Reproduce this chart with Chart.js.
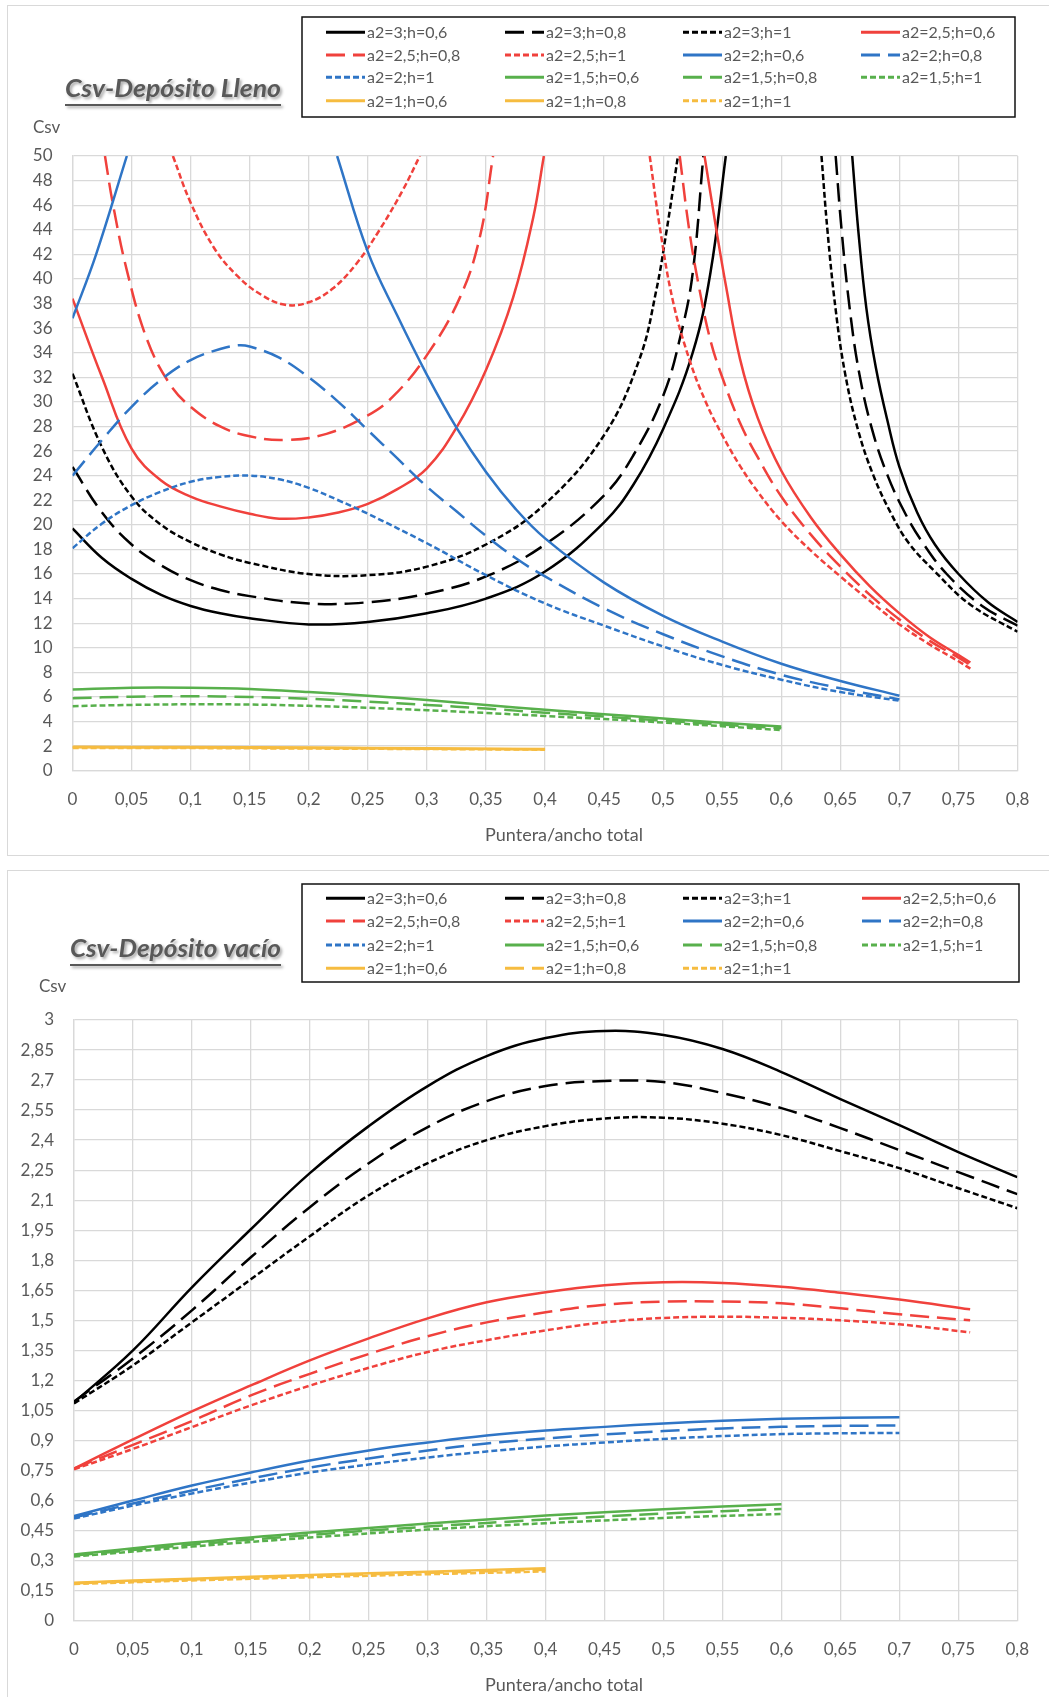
<!DOCTYPE html>
<html>
<head>
<meta charset="utf-8">
<script src="https://cdn.jsdelivr.net/npm/chart.js@4.4.1/dist/chart.umd.min.js"></script>
<style>
  html, body { margin: 0; padding: 0; background: #fff; width: 1049px; height: 1697px; overflow: hidden; position: relative; }
  .card { position: absolute; left: 7px; width: 1100px; border: 1px solid #d9d9d9; }
  #card1 { top: 5px; height: 849px; }
  #card2 { top: 870px; height: 900px; }
  canvas { position: absolute; left: 0; }
  #lleno { top: 0; width: 1049px; height: 862px; }
  #vacio { top: 862px; width: 1049px; height: 835px; }
</style>
</head>
<body>
<div class="card" id="card1"></div>
<div class="card" id="card2"></div>
<canvas id="lleno" width="1049" height="862"></canvas>
<canvas id="vacio" width="1049" height="835"></canvas>
<script>
// Series: a2 = 3; 2,5; 2; 1,5; 1  con h = 0,6; 0,8; 1
const labels = [
  'a2=3;h=0,6', 'a2=3;h=0,8', 'a2=3;h=1', 'a2=2,5;h=0,6',
  'a2=2,5;h=0,8', 'a2=2,5;h=1', 'a2=2;h=0,6', 'a2=2;h=0,8',
  'a2=2;h=1', 'a2=1,5;h=0,6', 'a2=1,5;h=0,8', 'a2=1,5;h=1',
  'a2=1;h=0,6', 'a2=1;h=0,8', 'a2=1;h=1'
];
const colors = [
  '#000000', '#000000', '#000000', '#f0413c', '#f0413c', '#f0413c',
  '#2f75c6', '#2f75c6', '#2f75c6', '#58b04c', '#58b04c', '#58b04c',
  '#f6bc40', '#f6bc40', '#f6bc40'
];
const dashesLleno = ['solid', 'dash', 'dot', 'solid', 'dash', 'dot', 'solid', 'dash', 'dot',
  'solid', 'dash', 'dot', 'solid', 'solid', 'dot'];
const dashesVacio = ['solid', 'dash', 'dot', 'solid', 'dash', 'dot', 'solid', 'dash', 'dot',
  'solid', 'dash', 'dot', 'solid', 'dash', 'dot'];

const xTicks = { min: 0, max: 0.8, step: 0.05 };

// ---- Depósito lleno (null = asíntota, la curva sale por arriba) ----
const llA3h06 = [[0,19.7],[0.025,17.3],[0.05,15.6],[0.075,14.3],[0.1,13.4],[0.125,12.8],[0.15,12.4],[0.2,11.9],[0.25,12.1],[0.3,12.8],[0.35,14.0],[0.4,16.2],[0.45,20.2],[0.475,23.3],[0.5,27.8],[0.525,34],[0.54,40.5],[0.553,50],[0.6,null],[0.66,50],[0.665,44.1],[0.672,37.6],[0.68,32.8],[0.69,28.4],[0.7,24.7],[0.715,21],[0.73,18.4],[0.75,16],[0.775,13.7],[0.8,12.1]];
const llA3h08 = [[0,24.7],[0.025,21],[0.05,18.4],[0.075,16.7],[0.1,15.5],[0.125,14.7],[0.15,14.2],[0.2,13.6],[0.25,13.7],[0.3,14.4],[0.35,15.8],[0.4,18.4],[0.45,22.4],[0.475,25.7],[0.5,30.5],[0.515,35.5],[0.525,40.5],[0.534,50],[0.6,null],[0.646,50],[0.651,44],[0.658,37.5],[0.666,32.3],[0.677,27.7],[0.69,24],[0.705,20.9],[0.72,18.5],[0.74,16],[0.77,13.4],[0.8,11.8]];
const llA3h1 = [[0,32.3],[0.025,26.3],[0.05,22.3],[0.075,20],[0.1,18.6],[0.125,17.6],[0.15,16.9],[0.2,16],[0.25,15.9],[0.3,16.6],[0.35,18.4],[0.4,21.7],[0.45,27.3],[0.48,33.5],[0.494,39],[0.503,44],[0.5125,50],[0.6,null],[0.634,50],[0.639,44],[0.646,37.5],[0.654,32.3],[0.665,27.7],[0.678,24],[0.693,20.9],[0.708,18.5],[0.73,16.2],[0.76,13.5],[0.8,11.3]];
const llA25h06 = [[0,38.4],[0.025,32],[0.05,26.2],[0.075,23.6],[0.1,22.3],[0.125,21.5],[0.15,20.9],[0.175,20.5],[0.2,20.6],[0.225,21],[0.25,21.7],[0.275,22.9],[0.3,24.6],[0.325,27.9],[0.35,32.6],[0.373,38.5],[0.39,45],[0.399,50],[0.45,null],[0.535,50],[0.545,44],[0.553,39.5],[0.565,33.5],[0.58,28.7],[0.6,24.4],[0.625,20.6],[0.65,17.6],[0.675,15],[0.7,12.8],[0.725,10.9],[0.75,9.4],[0.76,8.8]];
const llA25h08 = [[0.0275,50],[0.034,46.2],[0.046,40.7],[0.063,35.1],[0.082,31.5],[0.1,29.6],[0.125,28],[0.15,27.2],[0.18,26.9],[0.215,27.4],[0.25,28.9],[0.272,30.5],[0.3,33.8],[0.328,38.5],[0.345,43.5],[0.356,50],[0.45,null],[0.514,50],[0.522,44],[0.53,39.5],[0.54,35],[0.55,32],[0.565,28.3],[0.58,25.5],[0.6,22.3],[0.625,19.2],[0.65,16.6],[0.675,14.3],[0.7,12.3],[0.725,10.6],[0.75,9.2],[0.76,8.6]];
const llA25h1 = [[0.085,50],[0.1,46.2],[0.12,42.5],[0.14,40.2],[0.16,38.7],[0.18,37.9],[0.2,38.1],[0.22,39.2],[0.24,41.2],[0.26,44],[0.28,47.3],[0.294,50],[0.4,null],[0.4886,50],[0.497,44.3],[0.508,38.3],[0.522,33.5],[0.536,30],[0.55,27.3],[0.565,24.8],[0.58,22.7],[0.6,20.3],[0.625,17.9],[0.65,15.8],[0.675,13.8],[0.7,11.9],[0.725,10.3],[0.75,8.9],[0.76,8.3]];
const llA2h06 = [[0,36.8],[0.02,42],[0.046,50],[0.1,null],[0.224,50],[0.25,42.2],[0.275,37],[0.3,32.2],[0.325,27.9],[0.35,24.3],[0.375,21.3],[0.4,18.9],[0.45,15.3],[0.5,12.6],[0.55,10.5],[0.6,8.7],[0.65,7.3],[0.7,6.1]];
const llA2h08 = [[0,24],[0.025,26.9],[0.05,29.6],[0.075,31.8],[0.1,33.4],[0.125,34.3],[0.14,34.6],[0.15,34.5],[0.175,33.6],[0.2,32],[0.225,30],[0.25,27.7],[0.275,25.4],[0.3,23.1],[0.325,21.1],[0.35,19.1],[0.375,17.3],[0.4,15.8],[0.45,13.2],[0.5,11.1],[0.55,9.3],[0.6,7.8],[0.65,6.7],[0.7,5.8]];
const llA2h1 = [[0,18.1],[0.025,20.1],[0.05,21.6],[0.075,22.7],[0.1,23.5],[0.125,23.9],[0.15,24],[0.175,23.7],[0.2,23],[0.225,22],[0.25,20.9],[0.3,18.5],[0.35,15.9],[0.4,13.6],[0.45,11.8],[0.5,10.1],[0.55,8.6],[0.6,7.4],[0.65,6.4],[0.7,5.7]];
const llA15h06 = [[0,6.6],[0.05,6.75],[0.1,6.75],[0.15,6.65],[0.2,6.4],[0.25,6.1],[0.3,5.75],[0.35,5.35],[0.4,4.95],[0.45,4.6],[0.5,4.25],[0.55,3.9],[0.6,3.6]];
const llA15h08 = [[0,5.9],[0.05,6.02],[0.1,6.05],[0.15,6],[0.2,5.85],[0.25,5.62],[0.3,5.35],[0.35,5.05],[0.4,4.72],[0.45,4.4],[0.5,4.08],[0.55,3.75],[0.6,3.45]];
const llA15h1 = [[0,5.25],[0.05,5.35],[0.1,5.4],[0.15,5.38],[0.2,5.28],[0.25,5.12],[0.3,4.92],[0.35,4.7],[0.4,4.45],[0.45,4.2],[0.5,3.92],[0.55,3.62],[0.6,3.3]];
const llA1h06 = [[0,1.95],[0.1,1.92],[0.2,1.88],[0.3,1.82],[0.4,1.76]];
const llA1h08 = [[0,1.9],[0.1,1.88],[0.2,1.84],[0.3,1.79],[0.4,1.73]];
const llA1h1 = [[0,1.85],[0.1,1.84],[0.2,1.8],[0.3,1.76],[0.4,1.71]];

// ---- Depósito vacío ----
const vaA3h06 = [[0,1.09],[0.05,1.35],[0.1,1.665],[0.15,1.955],[0.2,2.235],[0.25,2.47],[0.3,2.67],[0.35,2.82],[0.4,2.91],[0.45,2.945],[0.5,2.925],[0.55,2.855],[0.6,2.74],[0.65,2.605],[0.7,2.475],[0.75,2.34],[0.8,2.215]];
const vaA3h08 = [[0,1.095],[0.05,1.31],[0.1,1.55],[0.15,1.815],[0.2,2.065],[0.25,2.285],[0.3,2.465],[0.35,2.595],[0.4,2.67],[0.45,2.695],[0.5,2.69],[0.55,2.635],[0.6,2.56],[0.65,2.46],[0.7,2.35],[0.75,2.24],[0.8,2.13]];
const vaA3h1 = [[0,1.085],[0.05,1.275],[0.1,1.49],[0.15,1.705],[0.2,1.92],[0.25,2.125],[0.3,2.285],[0.35,2.4],[0.4,2.47],[0.45,2.508],[0.5,2.512],[0.55,2.482],[0.6,2.425],[0.65,2.345],[0.7,2.26],[0.75,2.16],[0.8,2.06]];
const vaA25h06 = [[0,0.76],[0.05,0.905],[0.1,1.045],[0.15,1.175],[0.2,1.3],[0.25,1.41],[0.3,1.51],[0.35,1.59],[0.4,1.64],[0.45,1.675],[0.5,1.69],[0.55,1.687],[0.6,1.668],[0.65,1.638],[0.7,1.604],[0.76,1.555]];
const vaA25h08 = [[0,0.76],[0.05,0.878],[0.1,0.997],[0.15,1.125],[0.2,1.233],[0.25,1.332],[0.3,1.421],[0.35,1.49],[0.4,1.54],[0.45,1.578],[0.5,1.594],[0.55,1.594],[0.6,1.585],[0.65,1.56],[0.7,1.53],[0.76,1.5]];
const vaA25h1 = [[0,0.756],[0.05,0.858],[0.1,0.967],[0.15,1.075],[0.2,1.174],[0.25,1.263],[0.3,1.342],[0.35,1.401],[0.4,1.45],[0.45,1.49],[0.5,1.512],[0.55,1.518],[0.6,1.513],[0.65,1.5],[0.7,1.48],[0.76,1.44]];
const vaA2h06 = [[0,0.523],[0.05,0.6],[0.1,0.675],[0.15,0.74],[0.2,0.8],[0.25,0.85],[0.3,0.89],[0.35,0.925],[0.4,0.95],[0.45,0.968],[0.5,0.985],[0.55,0.998],[0.6,1.008],[0.65,1.014],[0.7,1.016]];
const vaA2h08 = [[0,0.515],[0.05,0.585],[0.1,0.65],[0.15,0.71],[0.2,0.765],[0.25,0.81],[0.3,0.85],[0.35,0.885],[0.4,0.91],[0.45,0.93],[0.5,0.947],[0.55,0.96],[0.6,0.968],[0.65,0.973],[0.7,0.975]];
const vaA2h1 = [[0,0.51],[0.05,0.575],[0.1,0.635],[0.15,0.69],[0.2,0.74],[0.25,0.78],[0.3,0.815],[0.35,0.845],[0.4,0.87],[0.45,0.89],[0.5,0.908],[0.55,0.922],[0.6,0.932],[0.65,0.936],[0.7,0.938]];
const vaA15h06 = [[0,0.33],[0.1,0.39],[0.2,0.44],[0.3,0.485],[0.4,0.525],[0.5,0.557],[0.6,0.582]];
const vaA15h08 = [[0,0.325],[0.1,0.38],[0.2,0.428],[0.3,0.47],[0.4,0.505],[0.5,0.535],[0.6,0.558]];
const vaA15h1 = [[0,0.32],[0.1,0.37],[0.2,0.415],[0.3,0.455],[0.4,0.487],[0.5,0.513],[0.6,0.533]];
const vaA1h06 = [[0,0.19],[0.1,0.21],[0.2,0.228],[0.3,0.245],[0.4,0.262]];
const vaA1h08 = [[0,0.187],[0.1,0.206],[0.2,0.223],[0.3,0.239],[0.4,0.254]];
const vaA1h1 = [[0,0.183],[0.1,0.201],[0.2,0.217],[0.3,0.232],[0.4,0.246]];

const llenoSeries = [llA3h06, llA3h08, llA3h1, llA25h06, llA25h08, llA25h1, llA2h06, llA2h08, llA2h1,
  llA15h06, llA15h08, llA15h1, llA1h06, llA1h08, llA1h1];
const vacioSeries = [vaA3h06, vaA3h08, vaA3h1, vaA25h06, vaA25h08, vaA25h1, vaA2h06, vaA2h08, vaA2h1,
  vaA15h06, vaA15h08, vaA15h1, vaA1h06, vaA1h08, vaA1h1];

const DASH = { solid: [], dash: [19, 8], dot: [6, 3] };
const FONT = 'Lato, "Open Sans", sans-serif';
const GRIS = '#595959';
const REJILLA = '#d9d9d9';

const coma = v => String(+Number(v).toFixed(2)).replace('.', ',');

// corta la serie en tramos donde hay un null (cada tramo es un dataset)
function tramos(arr) {
  const out = [[]];
  arr.forEach(([x, y]) => {
    if (y === null) out.push([]);
    else out[out.length - 1].push({ x, y });
  });
  return out.filter(t => t.length);
}

function buildDatasets(series, dashes) {
  const sets = [];
  series.forEach((arr, i) => {
    tramos(arr).forEach(data => {
      sets.push({
        label: labels[i],
        data: data,
        borderColor: colors[i],
        borderWidth: 2.5,
        borderDash: DASH[dashes[i]],
        pointRadius: 0,
        fill: false,
        tension: 0.4,
        order: 100 - i
      });
    });
  });
  return sets;
}

// Leyenda en rejilla de 4 columnas, título subrayado y rótulos de ejes
const sheetDecor = {
  id: 'sheetDecor',
  afterDraw(chart, args, o) {
    const ctx = chart.ctx;
    ctx.save();

    // recuadro de la leyenda
    const [bx, by, bw, bh] = o.box;
    ctx.fillStyle = '#fff';
    ctx.fillRect(bx, by, bw, bh);
    ctx.lineWidth = 1.5;
    ctx.strokeStyle = '#111';
    ctx.strokeRect(bx, by, bw, bh);

    labels.forEach((text, i) => {
      const x = o.colX[i % 4];
      const y = o.rowY[Math.floor(i / 4)];
      ctx.beginPath();
      ctx.setLineDash(DASH[o.dashes[i]]);
      ctx.strokeStyle = colors[i];
      ctx.lineWidth = 3;
      ctx.moveTo(x, y);
      ctx.lineTo(x + 39, y);
      ctx.stroke();
      ctx.setLineDash([]);
      ctx.fillStyle = GRIS;
      ctx.font = '16px ' + FONT;
      ctx.textAlign = 'left';
      ctx.textBaseline = 'middle';
      ctx.fillText(text, x + 41, y + 1);
    });

    // título con sombra y subrayado
    const t = o.title;
    ctx.font = 'italic bold 25px ' + FONT;
    const w = ctx.measureText(t.text).width;
    const k = (t.right - t.left) / w;
    ctx.save();
    ctx.shadowColor = 'rgba(0,0,0,0.35)';
    ctx.shadowOffsetX = 2;
    ctx.shadowOffsetY = 2;
    ctx.shadowBlur = 3;
    ctx.fillStyle = GRIS;
    ctx.textAlign = 'left';
    ctx.textBaseline = 'alphabetic';
    ctx.translate(t.left, t.baseline);
    ctx.scale(k, 1);
    ctx.fillText(t.text, 0, 0);
    ctx.restore();
    ctx.save();
    ctx.shadowColor = 'rgba(0,0,0,0.35)';
    ctx.shadowOffsetX = 2;
    ctx.shadowOffsetY = 2;
    ctx.shadowBlur = 3;
    ctx.fillStyle = GRIS;
    ctx.fillRect(t.left, t.baseline + 7, t.right - t.left, 2);
    ctx.restore();

    // rótulo del eje Y y del eje X
    ctx.fillStyle = GRIS;
    ctx.font = '17px ' + FONT;
    ctx.textAlign = 'left';
    ctx.textBaseline = 'middle';
    ctx.fillText('Csv', o.yLabel[0], o.yLabel[1]);
    ctx.font = '18px ' + FONT;
    ctx.textAlign = 'center';
    ctx.fillText('Puntera/ancho total', o.xLabel[0], o.xLabel[1]);
    ctx.restore();
  }
};

function makeChart(id, series, dashes, y, frame, decor) {
  return new Chart(document.getElementById(id), {
    type: 'line',
    data: { datasets: buildDatasets(series, dashes) },
    plugins: [sheetDecor],
    options: {
      responsive: false,
      animation: false,
      devicePixelRatio: 1,
      elements: { line: { capBezierPoints: false } },
      layout: { padding: { top: frame.top, right: frame.right, bottom: 0, left: 0 } },
      plugins: {
        legend: { display: false },
        tooltip: { enabled: false },
        sheetDecor: Object.assign({ dashes: dashes }, decor)
      },
      scales: {
        x: {
          type: 'linear',
          min: xTicks.min,
          max: xTicks.max,
          afterFit: s => { s.height = frame.xHeight; },
          grid: { color: REJILLA, lineWidth: 1.3, drawTicks: false },
          border: { color: REJILLA, width: 1.3 },
          ticks: {
            stepSize: xTicks.step,
            autoSkip: false,
            maxRotation: 0,
            padding: 19,
            color: GRIS,
            font: { family: FONT, size: 17 },
            callback: coma
          }
        },
        y: {
          type: 'linear',
          min: y.min,
          max: y.max,
          afterFit: s => { s.width = frame.yWidth; },
          grid: { color: REJILLA, lineWidth: 1.3, drawTicks: false },
          border: { color: REJILLA, width: 1.3 },
          ticks: {
            stepSize: y.step,
            autoSkip: false,
            padding: 20,
            color: GRIS,
            font: { family: FONT, size: 17 },
            callback: coma
          }
        }
      }
    }
  });
}

makeChart('lleno', llenoSeries, dashesLleno, { min: 0, max: 50, step: 2 },
  { top: 156, right: 31.4, xHeight: 91.3, yWidth: 72.5 },
  {
    box: [302, 17, 713, 100],
    colX: [326, 505, 683, 861],
    rowY: [32.3, 55, 77.3, 100.7],
    title: { text: 'Csv-Depósito Lleno', left: 65, right: 281, baseline: 97 },
    yLabel: [33, 128],
    xLabel: [564, 835]
  });

makeChart('vacio', vacioSeries, dashesVacio, { min: 0, max: 3, step: 0.15 },
  { top: 158, right: 31.7, xHeight: 76.3, yWidth: 74 },
  {
    box: [302, 22, 717, 98],
    colX: [326, 505, 683, 862],
    rowY: [36.3, 59, 83, 106.3],
    title: { text: 'Csv-Depósito vacío', left: 70, right: 281, baseline: 95 },
    yLabel: [39, 125],
    xLabel: [564, 823]
  });
</script>
</body>
</html>
